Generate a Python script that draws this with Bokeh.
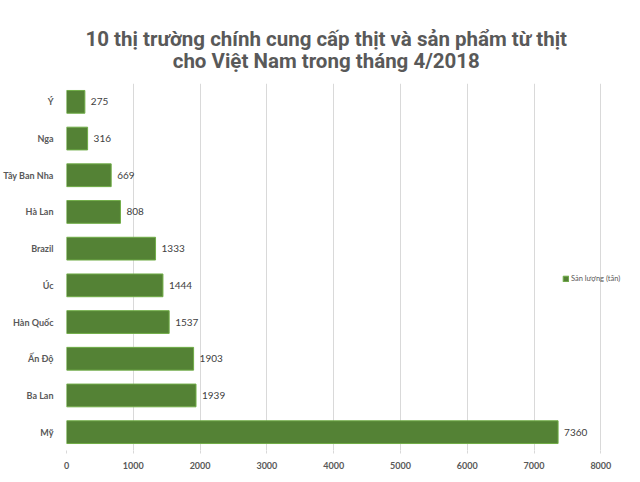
from bokeh.plotting import figure
from bokeh.models import ColumnDataSource, FactorRange, FixedTicker, Legend, LegendItem, Range1d
from bokeh.core.properties import value
from bokeh.embed import file_html
from bokeh.resources import INLINE

# Data (top to bottom as shown)
categories = ["Ý", "Nga", "Tây Ban Nha", "Hà Lan", "Brazil", "Úc", "Hàn Quốc", "Ấn Độ", "Ba Lan", "Mỹ"]
values = [275, 316, 669, 808, 1333, 1444, 1537, 1903, 1939, 7360]
x_ticks = [0, 1000, 2000, 3000, 4000, 5000, 6000, 7000, 8000]
series_name = "Sản lượng (tấn)"
title_lines = ["10 thị trường chính cung cấp thịt và sản phẩm từ thịt", "cho Việt Nam trong tháng 4/2018"]

source = ColumnDataSource(dict(cat=categories, val=values, lbl=[str(v) for v in values]))

# frame extends past the last tick to leave room for the legend
x_end = x_ticks[-1] * 1.0443

p = figure(width=624, height=473, output_backend="svg", toolbar_location=None,
           y_range=FactorRange(factors=list(reversed(categories))),
           x_range=Range1d(0, x_end),
           min_border_left=59, min_border_right=0, min_border_bottom=23, min_border_top=83)

p.title.text = "\n".join(title_lines)
p.title.align = "left"
p.title.offset = 19
p.title.standoff = 21
p.title.text_font = "Roboto"
p.title.text_font_size = "20.5px"
p.title.text_font_style = "bold"
p.title.text_color = "#595959"
p.title.text_line_height = 0.9
try:
    p.title.text_align = "center"
except Exception:
    pass

bars = p.hbar(y="cat", right="val", left=0, height=0.62, source=source,
              fill_color="#548235", line_color="#70AD47", line_width=1)

p.text(x="val", y="cat", text="lbl", source=source, x_offset=6,
       text_baseline="middle", text_align="left", text_font=value("Lato"),
       text_font_size="10px", text_color="#404040")

p.outline_line_color = None
p.background_fill_color = "white"
p.border_fill_color = "white"

p.ygrid.grid_line_color = None
p.xgrid.grid_line_color = "#d9d9d9"
p.xgrid.grid_line_width = 1

p.xaxis.ticker = FixedTicker(ticks=x_ticks)
p.xaxis.axis_line_color = None
p.xaxis.major_tick_line_color = "#d9d9d9"
p.xaxis.major_tick_out = 3
p.xaxis.major_tick_in = 0
p.xaxis.minor_tick_line_color = None
p.xaxis.major_label_standoff = 8
p.xaxis.major_label_text_font = "Lato"
p.xaxis.major_label_text_font_style = "bold"
p.xaxis.major_label_text_font_size = "9px"
p.xaxis.major_label_text_color = "#595959"

p.yaxis.axis_line_color = None
p.yaxis.major_tick_line_color = None
p.yaxis.minor_tick_line_color = None
p.yaxis.major_label_standoff = 7
p.yaxis.major_label_text_font = "Lato"
p.yaxis.major_label_text_font_style = "bold"
p.yaxis.major_label_text_font_size = "9px"
p.yaxis.major_label_text_color = "#595959"

legend = Legend(items=[LegendItem(label=series_name, renderers=[bars])],
                location=(496, 167), orientation="vertical")
legend.background_fill_alpha = 0
legend.border_line_color = None
legend.margin = 0
legend.padding = 0
legend.glyph_width = 7
legend.glyph_height = 7
legend.label_standoff = 2
legend.label_text_font = "Lato"
legend.label_text_font_size = "7.5px"
legend.label_text_color = "#595959"
legend.label_height = 10
p.add_layout(legend, "center")

open("out.html", "w").write(file_html(p, INLINE))
